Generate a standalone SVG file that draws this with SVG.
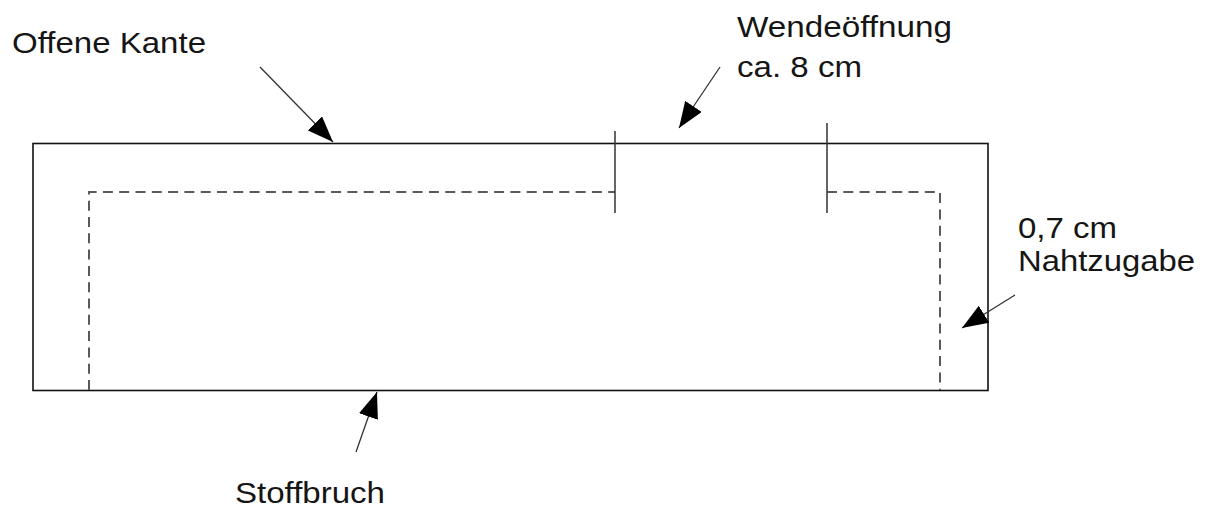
<svg xmlns="http://www.w3.org/2000/svg" width="1209" height="508" viewBox="0 0 1209 508">
<style>
  .lbl { font-family: "Liberation Sans", Arial, sans-serif; font-size: 30px; fill: #151515; }
  .edge { fill: none; stroke: #111; stroke-width: 1.6; }
  .seam { fill: none; stroke: #5a5a5a; stroke-width: 2; stroke-dasharray: 10 6.3; }
  .tick { fill: none; stroke: #333; stroke-width: 1.5; }
  .conn { fill: none; stroke: #333; stroke-width: 1.3; marker-end: url(#arrow); }
</style>
<defs>
  <marker id="arrow" markerUnits="userSpaceOnUse" markerWidth="26" markerHeight="20" viewBox="0 0 26 20" refX="26" refY="10" orient="auto">
    <path d="M0,0 L26,10 L0,20 z" fill="#000"/>
  </marker>
</defs>
<rect width="1209" height="508" fill="#fff"/>
<g id="fabric">
  <rect class="edge" x="33" y="143.5" width="955" height="247"/>
</g>
<g id="seam">
  <polyline class="seam" points="89,390 89,192 615,192"/>
  <polyline class="seam" points="827,192 940,192 940,390"/>
</g>
<g id="opening">
  <line class="tick" x1="615" y1="131" x2="615" y2="213"/>
  <line class="tick" x1="827" y1="123" x2="827" y2="213"/>
</g>
<g id="connectors">
  <line class="conn" x1="260" y1="67" x2="333" y2="142"/>
  <line class="conn" x1="720" y1="67" x2="679" y2="128"/>
  <line class="conn" x1="1015" y1="295" x2="962" y2="328"/>
  <line class="conn" x1="356" y1="452" x2="377" y2="392"/>
</g>
<g id="label-offene-kante">
  <text class="lbl" x="12" y="53" textLength="194" lengthAdjust="spacingAndGlyphs">Offene Kante</text>
</g>
<g id="label-wendeoeffnung">
  <text class="lbl" x="737" y="37" textLength="215" lengthAdjust="spacingAndGlyphs">Wendeöffnung</text>
  <text class="lbl" x="737" y="77" textLength="125" lengthAdjust="spacingAndGlyphs">ca. 8 cm</text>
</g>
<g id="label-nahtzugabe">
  <text class="lbl" x="1018" y="238" textLength="99" lengthAdjust="spacingAndGlyphs">0,7 cm</text>
  <text class="lbl" x="1018" y="271" textLength="177" lengthAdjust="spacingAndGlyphs">Nahtzugabe</text>
</g>
<g id="label-stoffbruch">
  <text class="lbl" x="235" y="503" textLength="150" lengthAdjust="spacingAndGlyphs">Stoffbruch</text>
</g>
</svg>
